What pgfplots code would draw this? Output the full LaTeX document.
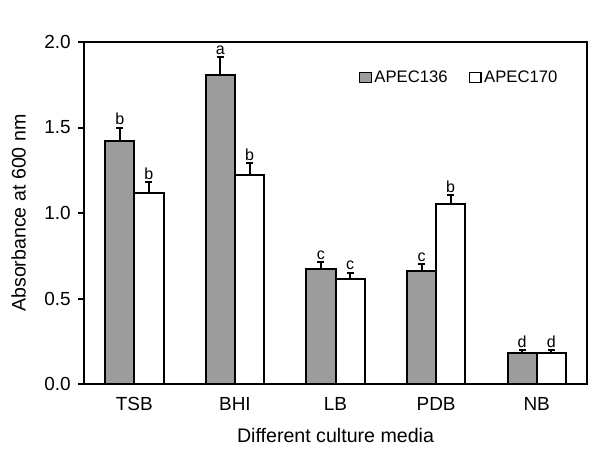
\documentclass[border=0pt]{standalone}
\usepackage{fontspec}
\setmainfont{Liberation Sans}
\usepackage{pgfplots}
\usepackage{pgfplotstable}
\pgfplotsset{compat=1.18}
\definecolor{bargray}{HTML}{9C9C9C}
\pgfplotstableread{
x val err top lab
-0.145 1.42 0.08 1.50 b
0.855 1.81 0.10 1.91 a
1.855 0.675 0.04 0.715 c
2.855 0.663 0.04 0.703 c
3.855 0.185 0.012 0.197 d
}\apeconefs
\pgfplotstableread{
x val err top lab
0.145 1.115 0.065 1.18 b
1.145 1.225 0.065 1.29 b
2.145 0.612 0.04 0.652 c
3.145 1.055 0.05 1.105 b
4.145 0.185 0.012 0.197 d
}\apecseventy
\begin{document}
\begin{tikzpicture}
\begin{axis}[
  scale only axis,
  width=377pt, height=256.5pt,
  xmin=-0.5, xmax=4.5, ymin=0, ymax=2,
  axis line style={line width=1.5pt},
  every tick/.style={line width=1.5pt, black},
  tick align=outside,
  xtick={0,1,2,3,4},
  xticklabels={TSB,BHI,LB,PDB,NB},
  minor xtick={-0.5,0.5,1.5,2.5,3.5,4.5},
  xtick style={draw=none},
  minor tick length=4.5pt,
  major tick length=4.5pt,
  ytick={0,0.5,1,1.5,2},
  ytick pos=left,
  xtick pos=bottom,
  yticklabel style={xshift=-2pt, /pgf/number format/.cd,fixed,fixed zerofill,precision=1},
  /pgf/number format/assume math mode=true,
  tick label style={font=\fontsize{14.2}{16}\selectfont},
  xticklabel style={yshift=-2pt},
  xlabel={Different culture media},
  ylabel={Absorbance at 600 nm},
  label style={font=\fontsize{14.7}{17}\selectfont},
  xlabel style={yshift=-6pt},
  ylabel style={yshift=7pt},
  legend style={draw=none, fill=none, at={(0.955,0.895)}, anchor=east,
    font=\fontsize{12.5}{14}\selectfont, legend columns=2,
    /tikz/every even column/.append style={column sep=14pt}},
  legend image code/.code={\draw[#1, line width=0.9pt] (0pt,-3.4pt) rectangle (8.5pt,4pt);},
  clip=false,
]
\addplot[ybar, bar width=0.29, bar shift=0, fill=bargray, draw=black, line width=1.5pt,
  error bars/.cd, y dir=plus, y explicit, error mark options={rotate=90, mark size=2.6pt, line width=1.5pt}, error bar style={line width=1.5pt}]
  table[x=x, y=val, y error=err] {\apeconefs};
\addlegendentry{APEC136}
\addplot[ybar, bar width=0.29, bar shift=0, fill=white, draw=black, line width=1.5pt,
  error bars/.cd, y dir=plus, y explicit, error mark options={rotate=90, mark size=2.6pt, line width=1.5pt}, error bar style={line width=1.5pt}]
  table[x=x, y=val, y error=err] {\apecseventy};
\addlegendentry{APEC170}
\addplot[only marks, mark=none, forget plot,
  nodes near coords, point meta=explicit symbolic,
  every node near coord/.append style={font=\fontsize{12}{14}\selectfont, anchor=south, yshift=-1.5pt}]
  table[x=x, y=top, meta=lab] {\apeconefs};
\addplot[only marks, mark=none, forget plot,
  nodes near coords, point meta=explicit symbolic,
  every node near coord/.append style={font=\fontsize{12}{14}\selectfont, anchor=south, yshift=-1.5pt}]
  table[x=x, y=top, meta=lab] {\apecseventy};
\end{axis}
\path ([shift={(-63pt,-60.75pt)}]current axis.south west) rectangle ([shift={(17.25pt,31.5pt)}]current axis.north east);
\end{tikzpicture}
\end{document}
